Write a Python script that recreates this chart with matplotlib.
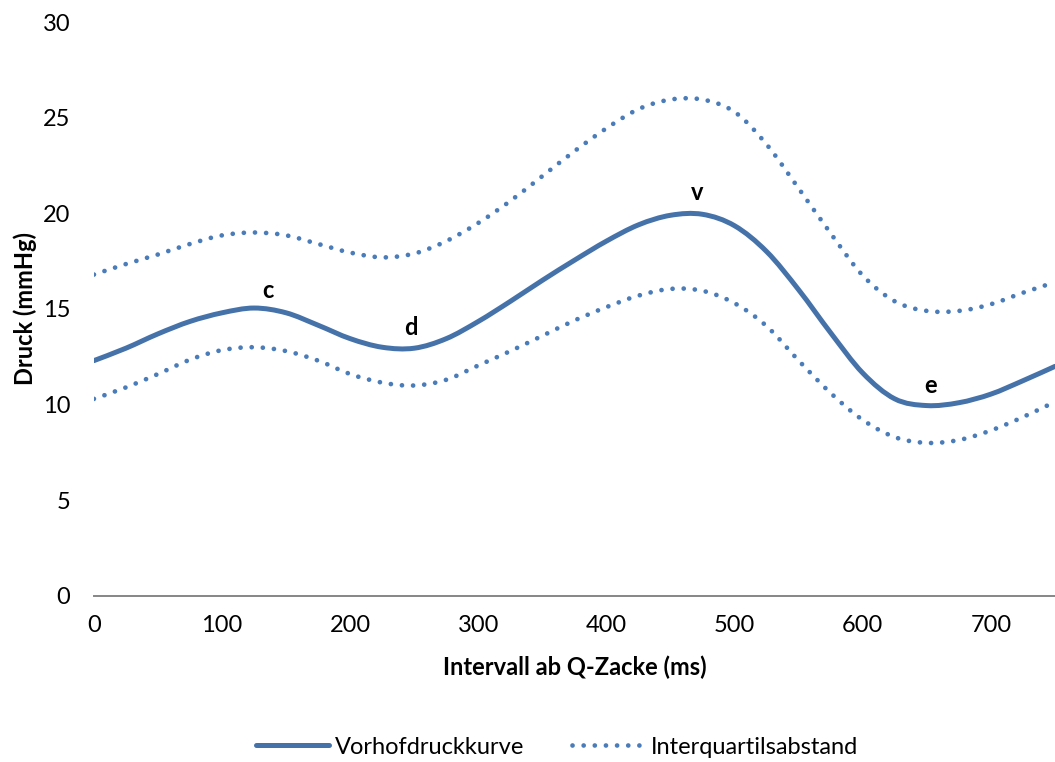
import matplotlib
matplotlib.use("Agg")
import matplotlib.pyplot as plt
from matplotlib.path import Path
from matplotlib.patches import PathPatch
from matplotlib.lines import Line2D
import numpy as np

# Interval after the Q wave (ms)
interval_ms = [0, 25, 50, 75, 100, 125, 150, 175, 200, 225, 250, 275, 300, 325,
               350, 375, 400, 425, 450, 475, 500, 525, 550, 575, 600, 625, 650,
               675, 700, 725, 750]

# Median atrial pressure curve (mmHg)
pressure_median = [12.3, 12.95, 13.7, 14.35, 14.8, 15.05, 14.8, 14.15, 13.45, 13.0,
                   12.95, 13.45, 14.35, 15.4, 16.5, 17.55, 18.55, 19.4, 19.9, 19.95,
                   19.35, 18.0, 16.0, 13.75, 11.65, 10.3, 9.95, 10.1, 10.55, 11.25, 12.0]

# Upper and lower quartile (mmHg)
pressure_q3 = [16.8, 17.35, 17.85, 18.4, 18.85, 19.0, 18.85, 18.4, 17.95, 17.7,
               17.9, 18.55, 19.5, 20.65, 21.95, 23.25, 24.45, 25.45, 25.95, 25.95,
               25.3, 23.6, 21.3, 18.95, 16.75, 15.4, 14.9, 14.9, 15.25, 15.85, 16.4]
pressure_q1 = [10.3, 10.9, 11.6, 12.35, 12.85, 13.0, 12.8, 12.3, 11.6, 11.15,
               11.0, 11.3, 12.05, 12.8, 13.6, 14.4, 15.1, 15.7, 16.05, 15.95,
               15.3, 14.1, 12.3, 10.6, 9.2, 8.3, 8.0, 8.15, 8.65, 9.35, 10.15]

# Wave labels: (text, x in ms, y in mmHg)
wave_labels = [("c", 136, 15.95), ("d", 247, 14.05), ("v", 471, 21.1), ("e", 653, 11.0)]

x_ticks = [0, 100, 200, 300, 400, 500, 600, 700]
y_ticks = [0, 5, 10, 15, 20, 25, 30]

LINE_BLUE = "#4672aa"
DOT_BLUE = "#4a7cb9"
FONT = "Lato"
FS = 17


def smooth_path(xs, ys):
    """Bezier path through the points (smoothed line, Catmull-Rom tangents)."""
    p = np.column_stack([xs, ys]).astype(float)
    n = len(p)
    verts = [p[0]]
    codes = [Path.MOVETO]
    for i in range(n - 1):
        p0 = p[i - 1] if i > 0 else p[i]
        p1 = p[i]
        p2 = p[i + 1]
        p3 = p[i + 2] if i + 2 < n else p[i + 1]
        c1 = p1 + (p2 - p0) / 6.0
        c2 = p2 - (p3 - p1) / 6.0
        verts += [c1, c2, p2]
        codes += [Path.CURVE4] * 3
    return Path(np.array(verts), codes)


plt.rcParams["font.family"] = [FONT, "DejaVu Sans"]

fig = plt.figure(figsize=(10.55, 7.62), dpi=100)
ax = fig.add_axes([0.089, 0.218, 0.911, 0.753])

dot_style = (0, (0.01, 2.35))
for series in (pressure_q3, pressure_q1):
    patch = PathPatch(smooth_path(interval_ms, series), fill=False,
                      edgecolor=DOT_BLUE, linewidth=3.4, linestyle=dot_style,
                      capstyle="round", zorder=2)
    ax.add_patch(patch)

main = PathPatch(smooth_path(interval_ms, pressure_median), fill=False,
                 edgecolor=LINE_BLUE, linewidth=3.6, capstyle="round",
                 joinstyle="round", zorder=3)
ax.add_patch(main)

for text, xv, yv in wave_labels:
    ax.text(xv, yv, text, ha="center", va="center", fontsize=FS,
            fontweight="bold", color="black")

ax.set_xlim(0, 750)
ax.set_ylim(0, 30)
ax.set_xticks(x_ticks)
ax.set_yticks(y_ticks)
ax.tick_params(axis="both", length=0, labelsize=FS, colors="black")
ax.tick_params(axis="y", pad=17)
ax.tick_params(axis="x", pad=14)

for side in ("top", "right", "left"):
    ax.spines[side].set_visible(False)
ax.spines["bottom"].set_color("#868686")
ax.spines["bottom"].set_linewidth(1.4)

ax.set_xlabel("Intervall ab Q-Zacke (ms)", fontsize=FS, fontweight="bold", labelpad=14)
ax.set_ylabel("Druck (mmHg)", fontsize=FS, fontweight="bold", labelpad=4)

handles = [
    Line2D([], [], color=LINE_BLUE, linewidth=3.6, solid_capstyle="round"),
    Line2D([], [], color=DOT_BLUE, linewidth=3.4, linestyle=dot_style,
           dash_capstyle="round"),
]
fig.legend(handles, ["Vorhofdruckkurve", "Interquartilsabstand"],
           loc="center", bbox_to_anchor=(557 / 1055, 1 - 747 / 762),
           ncol=2, frameon=False, fontsize=FS, handlelength=3.1,
           columnspacing=2.0, handletextpad=0.25)

fig.savefig("out.png", dpi=100)
